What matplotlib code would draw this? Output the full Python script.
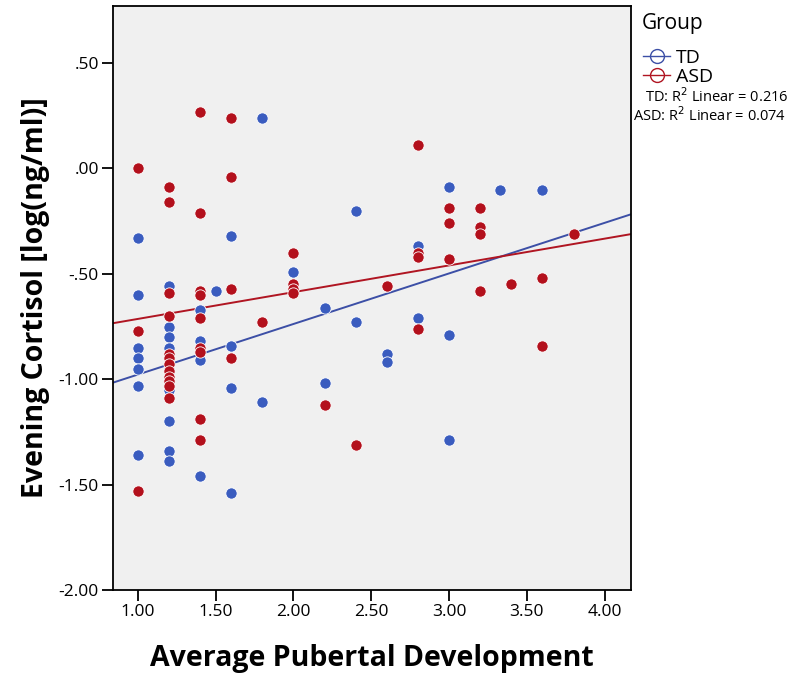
import matplotlib
matplotlib.use("Agg")
import matplotlib.pyplot as plt
from matplotlib.lines import Line2D
import numpy as np

# TD group (blue)
td_x = [1.0, 1.0, 1.0, 1.0, 1.0, 1.0, 1.0,
        1.2, 1.2, 1.2, 1.2, 1.2, 1.2, 1.2, 1.2, 1.2,
        1.4, 1.4, 1.4, 1.4, 1.5,
        1.6, 1.6, 1.6, 1.6, 1.8, 1.8, 2.0, 2.2, 2.2,
        2.4, 2.4, 2.6, 2.6, 2.8, 2.8, 3.0, 3.0, 3.0, 3.33, 3.6]
td_y = [-0.33, -0.60, -0.85, -0.90, -0.95, -1.03, -1.36,
        -0.56, -0.75, -0.80, -0.85, -0.95, -1.05, -1.20, -1.34, -1.39,
        -0.67, -0.82, -0.91, -1.46, -0.58,
        -0.32, -0.84, -1.04, -1.54, 0.24, -1.11, -0.49, -0.66, -1.02,
        -0.20, -0.73, -0.88, -0.92, -0.37, -0.71, -0.09, -0.79, -1.29, -0.10, -0.10]

# ASD group (red)
asd_x = [1.0, 1.0, 1.0,
         1.2, 1.2, 1.2, 1.2, 1.2, 1.2, 1.2, 1.2, 1.2, 1.2, 1.2, 1.2,
         1.4, 1.4, 1.4, 1.4, 1.4, 1.4, 1.4, 1.4, 1.4,
         1.6, 1.6, 1.6, 1.6, 1.8, 2.0, 2.0, 2.0, 2.0, 2.2, 2.4, 2.6,
         2.8, 2.8, 2.8, 2.8, 3.0, 3.0, 3.0, 3.2, 3.2, 3.2, 3.2,
         3.4, 3.6, 3.6, 3.8]
asd_y = [0.00, -0.77, -1.53,
         -0.09, -0.16, -0.59, -0.70, -0.88, -0.90, -0.93, -0.96, -0.99, -1.01, -1.03, -1.09,
         0.27, -0.21, -0.58, -0.60, -0.71, -0.85, -0.87, -1.19, -1.29,
         0.24, -0.04, -0.57, -0.90, -0.73, -0.40, -0.55, -0.57, -0.59, -1.12, -1.31, -0.56,
         0.11, -0.40, -0.42, -0.76, -0.19, -0.26, -0.43, -0.19, -0.28, -0.31, -0.58,
         -0.55, -0.52, -0.84, -0.31]

# fit lines as shown (intercept, slope)
td_fit = (-1.218, 0.240)
asd_fit = (-0.841, 0.127)
r2_td, r2_asd = 0.216, 0.074

xticks = [1.0, 1.5, 2.0, 2.5, 3.0, 3.5, 4.0]
xtick_labels = ["1.00", "1.50", "2.00", "2.50", "3.00", "3.50", "4.00"]
yticks = [0.5, 0.0, -0.5, -1.0, -1.5, -2.0]
ytick_labels = [".50", ".00", "-.50", "-1.00", "-1.50", "-2.00"]

blue = "#3a5cbf"
red = "#b3101c"
blue_line = "#3c4fa6"
red_line = "#b01522"

plt.rcParams['font.family'] = ['Open Sans', 'DejaVu Sans']

fig = plt.figure(figsize=(8, 6.79), dpi=100)
ax = fig.add_axes([0.141, 0.131, 0.648, 0.860])
ax.set_facecolor("#f0f0f0")

xlim = (0.84, 4.17)
ylim = (-2.0, 0.77)

xx = np.array(xlim)
ax.plot(xx, td_fit[0] + td_fit[1] * xx, color=blue_line, lw=1.4, zorder=2)
ax.plot(xx, asd_fit[0] + asd_fit[1] * xx, color=red_line, lw=1.4, zorder=2)

ax.scatter(td_x, td_y, s=66, c=blue, edgecolors="white", linewidths=0.6, zorder=3)
ax.scatter(asd_x, asd_y, s=66, c=red, edgecolors="white", linewidths=0.6, zorder=3)

ax.set_xlim(xlim)
ax.set_ylim(ylim)
ax.set_xticks(xticks)
ax.set_xticklabels(xtick_labels)
ax.set_yticks(yticks)
ax.set_yticklabels(ytick_labels)
ax.tick_params(direction="out", length=8, width=1.3, labelsize=12.5, colors="black", pad=2)
for s in ax.spines.values():
    s.set_linewidth(1.3)

ax.set_xlabel("Average Pubertal Development", fontsize=20.5, fontweight="bold", labelpad=17)
ax.set_ylabel("Evening Cortisol [log(ng/ml)]", fontsize=20.5, fontweight="bold", labelpad=6)

# legend
fig.text(0.802, 1 - 24 / 679, "Group", fontsize=15, va="center")
handles = [Line2D([], [], color=blue_line, lw=1, marker="o", markersize=10,
                  markerfacecolor="none", markeredgecolor=blue_line),
           Line2D([], [], color=red_line, lw=1, marker="o", markersize=10,
                  markerfacecolor="none", markeredgecolor=red_line)]
fig.legend(handles, ["TD", "ASD"], loc="upper left",
           bbox_to_anchor=(0.787, 1 - 35 / 679), frameon=False, fontsize=14,
           handlelength=1.4, handletextpad=0.3, labelspacing=0.05, borderpad=0.2)

fig.text(0.806, 1 - 97 / 679, "TD: R$^2$ Linear = %.3f" % r2_td, fontsize=10.5, va="center")
fig.text(0.791, 1 - 116 / 679, "ASD: R$^2$ Linear = %.3f" % r2_asd, fontsize=10.5, va="center")

fig.savefig("out.png", dpi=100)
